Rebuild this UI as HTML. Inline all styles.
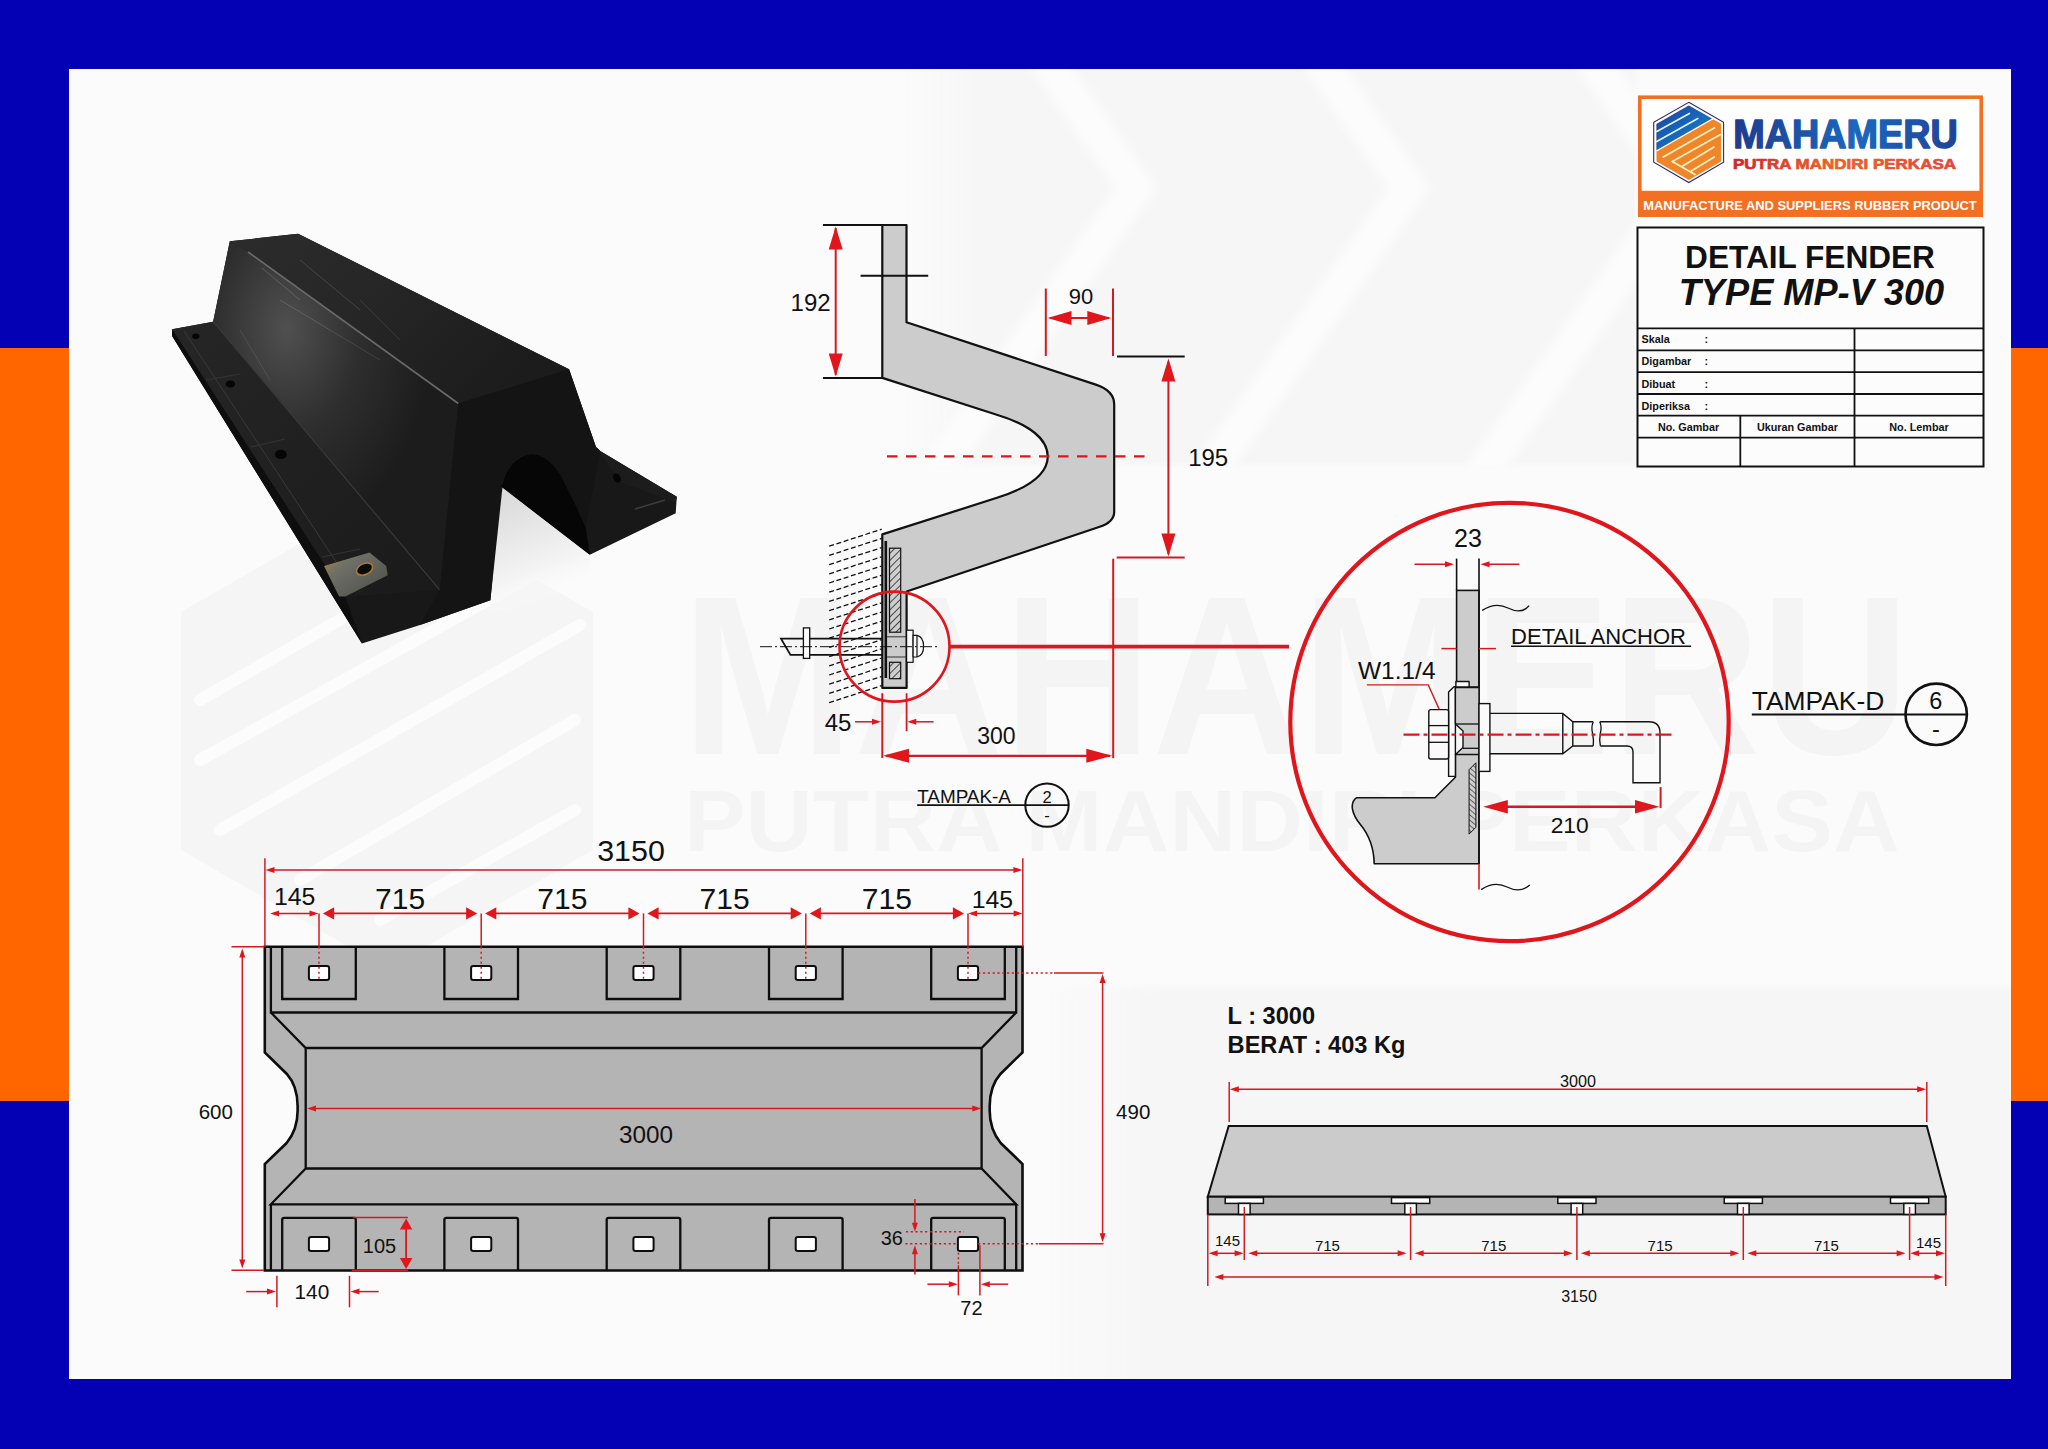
<!DOCTYPE html><html><head><meta charset="utf-8"><style>html,body{margin:0;padding:0;background:#0400B4;}svg{display:block;}text{font-family:"Liberation Sans",sans-serif;}</style></head><body>
<svg width="2048" height="1449" viewBox="0 0 2048 1449">
<rect x="0" y="0" width="2048" height="1449" fill="#0400B4"/>
<rect x="0" y="348" width="69" height="753" fill="#FF6600"/>
<rect x="2011" y="348" width="37" height="753" fill="#FF6600"/>
<rect x="69" y="69" width="1942" height="1310" fill="#FBFBFB"/>
<defs><clipPath id="cpanel"><rect x="69" y="69" width="1942" height="1310"/></clipPath></defs><g clip-path="url(#cpanel)">
<defs><linearGradient id="gBandT" x1="0" x2="1" y1="0" y2="0"><stop offset="0" stop-color="#F6F6F6" stop-opacity="0"/><stop offset="0.12" stop-color="#F6F6F6"/><stop offset="1" stop-color="#F6F6F6"/></linearGradient></defs>
<defs><filter id="fsoft2" x="-5%" y="-5%" width="110%" height="110%"><feGaussianBlur stdDeviation="3"/></filter></defs>
<rect x="900" y="50" width="737" height="415" fill="url(#gBandT)" filter="url(#fsoft2)"/>
<rect x="1040" y="987" width="990" height="410" fill="url(#gBandT)" filter="url(#fsoft2)"/>
<defs><filter id="fsoft" x="-5%" y="-5%" width="110%" height="110%"><feGaussianBlur stdDeviation="4"/></filter></defs>
<polygon points="1059.4,49 1156.7,188 959.3,470 917.3,470 1114.7,188 1017.4,49" fill="#FCFCFC" filter="url(#fsoft)"/>
<polygon points="1332.4,49 1429.7,188 1232.3,470 1190.3,470 1387.7,188 1290.4,49" fill="#FCFCFC" filter="url(#fsoft)"/>
<polygon points="1605.4,49 1702.7,188 1505.3,470 1463.3,470 1660.7,188 1563.4,49" fill="#FCFCFC" filter="url(#fsoft)"/>
<polygon points="387,493 593,612 593,850 387,969 181,850 181,612" fill="#000" fill-opacity="0.022"/>
<line x1="200" y1="700" x2="470" y2="545" stroke="#FCFCFC" stroke-width="12" stroke-linecap="round"/>
<line x1="200" y1="760" x2="560" y2="560" stroke="#FCFCFC" stroke-width="12" stroke-linecap="round"/>
<line x1="220" y1="830" x2="580" y2="625" stroke="#FCFCFC" stroke-width="12" stroke-linecap="round"/>
<line x1="300" y1="880" x2="575" y2="720" stroke="#FCFCFC" stroke-width="12" stroke-linecap="round"/>
<line x1="380" y1="920" x2="575" y2="810" stroke="#FCFCFC" stroke-width="12" stroke-linecap="round"/>
<text x="681.8" y="753.6" font-size="227" font-weight="bold" fill="#000" fill-opacity="0.028" textLength="1228" lengthAdjust="spacingAndGlyphs">MAHAMERU</text>
<text x="684" y="851" font-size="87" font-weight="bold" fill="#000" fill-opacity="0.028" textLength="1216" lengthAdjust="spacingAndGlyphs">PUTRA MANDIRI PERKASA</text>
</g>
<defs><linearGradient id="gTop" x1="0" y1="0" x2="1" y2="0.5"><stop offset="0" stop-color="#2c2c2c"/><stop offset="0.5" stop-color="#262626"/><stop offset="1" stop-color="#1c1c1c"/></linearGradient><radialGradient id="gScr" cx="0.3" cy="0.25" r="0.6"><stop offset="0" stop-color="#505050"/><stop offset="0.5" stop-color="#2e2e2e"/><stop offset="1" stop-color="#1c1c1c"/></radialGradient><linearGradient id="gWedge" x1="0" y1="0" x2="0.3" y2="1"><stop offset="0" stop-color="#d6d6d6"/><stop offset="0.75" stop-color="#f4f4f4"/><stop offset="1" stop-color="#fbfbfb" stop-opacity="0"/></linearGradient><linearGradient id="gFl" x1="0" y1="0" x2="1" y2="1"><stop offset="0" stop-color="#262626"/><stop offset="1" stop-color="#1a1a1a"/></linearGradient><linearGradient id="gPlate" x1="0" y1="0" x2="1" y2="1"><stop offset="0" stop-color="#b08a3c"/><stop offset="0.3" stop-color="#6f7068"/><stop offset="1" stop-color="#4c4c48"/></linearGradient></defs>
<polygon points="500.8,486.3 589.8,554.7 590,610 490.4,610" fill="url(#gWedge)"/>
<polygon points="172.1,329.3 213.1,321.7 229.8,241.3 298.1,233.7 569.1,369.3 596,447 600.2,451.1 676.8,496.7 675.7,513.2 589.8,554.7 500.8,486.3 490.4,600.2 420,625 361.9,643.5 172.1,336" fill="#181818"/>
<polygon points="229.8,241.3 298.1,233.7 569.1,369.3 458.3,403.5 248,252" fill="url(#gTop)"/>
<polygon points="229.8,241.3 248,252 458.3,403.5 439.7,589.9 213.1,321.7" fill="url(#gScr)"/>
<polygon points="172.1,329.3 213.1,321.7 439.7,589.9 345.2,596.4" fill="url(#gFl)"/>
<polygon points="172.1,329.3 345.2,596.4 361.9,643.5 172.1,336" fill="#0e0e0e"/>
<polyline points="184,331 356,592" fill="none" stroke="#3a3a3a" stroke-width="1"/>
<polyline points="213.1,321.7 439.7,589.9" fill="none" stroke="#3a3a3a" stroke-width="1.2"/>
<polyline points="248,252 458.3,403.5" fill="none" stroke="#6a6a6a" stroke-width="1.6"/>
<polygon points="458.3,403.5 569.1,369.3 596,447 600.2,451.1 585.7,527.7 577.4,509.1 565,484.2 552.5,463.5 544.2,456.3 531.8,454.2 519.4,456.3 509,467.7 502.8,484.2 490.4,600.2 420,625 439.7,589.9" fill="#141414"/>
<path d="M502.8,484.2 C506,470 515,456 531.8,454.2 C546,454 558,468 565,484.2 L577.4,509.1 L585.7,527.7 L589.8,554.7 L500.8,486.3 Z" fill="#060606"/>
<polygon points="596,447 600.2,451.1 676.8,496.7 675.7,503 620,482 " fill="#1c1c1c"/>
<polyline points="635,509 665,500" fill="none" stroke="#3c3c3c" stroke-width="1.5"/>
<ellipse cx="617" cy="478" rx="3.5" ry="5" fill="#050505" transform="rotate(-30 617 478)"/>
<ellipse cx="195.8" cy="336.3" rx="3.6" ry="2.8" fill="#050505"/>
<ellipse cx="230.4" cy="384" rx="4.7" ry="3.6" fill="#050505"/>
<ellipse cx="280.8" cy="454.4" rx="6.0" ry="4.6" fill="#050505"/>
<line x1="206" y1="380" x2="240" y2="374" stroke="#333" stroke-width="1.2"/>
<line x1="251" y1="447" x2="285" y2="439" stroke="#333" stroke-width="1.2"/>
<line x1="322" y1="557" x2="360" y2="549" stroke="#333" stroke-width="1.2"/>
<polygon points="324,566 369.5,552.4 386.2,566 387.7,575.2 345.2,596.4 339.1,596.4" fill="url(#gPlate)"/>
<ellipse cx="364.6" cy="569.1" rx="8.5" ry="5.5" fill="#0a0a0a" stroke="#b07a30" stroke-width="1.6" transform="rotate(-25 364.6 569.1)"/>
<line x1="262" y1="268" x2="300" y2="300" stroke="#9a9a9a" stroke-opacity="0.35" stroke-width="1"/>
<line x1="280" y1="300" x2="330" y2="330" stroke="#9a9a9a" stroke-opacity="0.3" stroke-width="1"/>
<line x1="300" y1="260" x2="360" y2="310" stroke="#9a9a9a" stroke-opacity="0.25" stroke-width="1"/>
<line x1="330" y1="330" x2="380" y2="360" stroke="#9a9a9a" stroke-opacity="0.2" stroke-width="1"/>
<line x1="360" y1="300" x2="400" y2="340" stroke="#9a9a9a" stroke-opacity="0.2" stroke-width="1"/>
<line x1="240" y1="330" x2="270" y2="380" stroke="#9a9a9a" stroke-opacity="0.2" stroke-width="1"/>
<defs><linearGradient id="gM" x1="0" x2="1" y1="0" y2="0"><stop offset="0" stop-color="#1E3C8E"/><stop offset="0.55" stop-color="#1A68BE"/><stop offset="1" stop-color="#1E4398"/></linearGradient><linearGradient id="gP" x1="0" x2="1" y1="0" y2="0"><stop offset="0" stop-color="#D3222F"/><stop offset="0.45" stop-color="#E8642A"/><stop offset="1" stop-color="#E2473A"/></linearGradient><linearGradient id="gB" x1="0" x2="1" y1="0" y2="1"><stop offset="0" stop-color="#1C3F9C"/><stop offset="0.6" stop-color="#1570C2"/><stop offset="1" stop-color="#1C3F9C"/></linearGradient></defs>
<rect x="1639.8" y="97.2" width="341.4" height="118" fill="#FFFFFF" stroke="#F36F21" stroke-width="3.6"/>
<rect x="1638" y="190.8" width="345" height="26.2" fill="#F36F21"/>
<polygon points="1688.8,102.3 1723.6,122.2 1723.6,162.3 1688.8,182.5 1653.7,162.3 1653.7,122.2" fill="#FFFFFF" stroke="#2B2A72" stroke-width="1.1"/>
<polygon points="1688.8,105.5 1721.1,123.8 1721.1,161.4 1688.8,180 1656.5,161.4 1656.5,124.1" fill="#F0862A"/>
<polygon points="1688.8,105.5 1711.8,118.5 1656.5,150.2 1656.5,124.1" fill="url(#gB)"/>
<line x1="1656.5" y1="151" x2="1713" y2="118.8" stroke="#FFFFFF" stroke-width="1.3"/>
<line x1="1656.8" y1="131.5" x2="1689.4" y2="113.5" stroke="#DDF6FF" stroke-width="1.7" stroke-linecap="round"/>
<line x1="1656.8" y1="141.5" x2="1697.8" y2="118.5" stroke="#DDF6FF" stroke-width="1.7" stroke-linecap="round"/>
<line x1="1663.3" y1="157" x2="1714.6" y2="127.8" stroke="#FFF0C0" stroke-width="1.7" stroke-linecap="round"/>
<line x1="1672.3" y1="161.4" x2="1720.5" y2="134.6" stroke="#FFF0C0" stroke-width="1.7" stroke-linecap="round"/>
<line x1="1672.3" y1="161.4" x2="1695" y2="174.6" stroke="#FFF0C0" stroke-width="1.7" stroke-linecap="round"/>
<line x1="1682.3" y1="166.3" x2="1714" y2="147.1" stroke="#FFF0C0" stroke-width="1.7" stroke-linecap="round"/>
<line x1="1691.3" y1="171" x2="1714.3" y2="157" stroke="#FFF0C0" stroke-width="1.7" stroke-linecap="round"/>
<text x="1733.2" y="147.9" font-size="40.6" font-weight="bold" fill="url(#gM)" stroke="url(#gM)" stroke-width="1.5" stroke-linejoin="round" textLength="224.5" lengthAdjust="spacingAndGlyphs">MAHAMERU</text>
<text x="1733" y="168.8" font-size="14.3" font-weight="bold" fill="url(#gP)" stroke="url(#gP)" stroke-width="0.7" stroke-linejoin="round" textLength="223" lengthAdjust="spacingAndGlyphs">PUTRA MANDIRI PERKASA</text>
<text x="1643.2" y="209.5" font-size="13.4" font-weight="bold" fill="#FFFFFF" textLength="333.5" lengthAdjust="spacingAndGlyphs">MANUFACTURE AND SUPPLIERS RUBBER PRODUCT</text>
<rect x="1637.5" y="227.5" width="346.0" height="239.0" fill="#FCFCFC" stroke="#111" stroke-width="2"/>
<line x1="1637.5" y1="328.4" x2="1983.5" y2="328.4" stroke="#111" stroke-width="1.8" />
<line x1="1637.5" y1="350.4" x2="1983.5" y2="350.4" stroke="#111" stroke-width="1.8" />
<line x1="1637.5" y1="372.2" x2="1983.5" y2="372.2" stroke="#111" stroke-width="1.8" />
<line x1="1637.5" y1="394.0" x2="1983.5" y2="394.0" stroke="#111" stroke-width="1.8" />
<line x1="1637.5" y1="415.7" x2="1983.5" y2="415.7" stroke="#111" stroke-width="1.8" />
<line x1="1637.5" y1="437.7" x2="1983.5" y2="437.7" stroke="#111" stroke-width="1.8" />
<line x1="1854.5" y1="328.4" x2="1854.5" y2="466.5" stroke="#111" stroke-width="1.8" />
<line x1="1740.3" y1="415.7" x2="1740.3" y2="466.5" stroke="#111" stroke-width="1.8" />
<text x="1810" y="267.8" font-size="31.6" text-anchor="middle" font-weight="bold" font-style="normal" fill="#111" >DETAIL FENDER</text>
<text x="1811.5" y="305.3" font-size="36.2" text-anchor="middle" font-weight="bold" font-style="italic" fill="#111" >TYPE MP-V 300</text>
<text x="1641.5" y="342.9" font-size="10.8" text-anchor="start" font-weight="bold" font-style="normal" fill="#111" >Skala</text>
<text x="1706.4" y="342.9" font-size="10.8" text-anchor="middle" font-weight="bold" font-style="normal" fill="#111" >:</text>
<text x="1641.5" y="365.3" font-size="10.8" text-anchor="start" font-weight="bold" font-style="normal" fill="#111" >Digambar</text>
<text x="1706.4" y="365.3" font-size="10.8" text-anchor="middle" font-weight="bold" font-style="normal" fill="#111" >:</text>
<text x="1641.5" y="388.2" font-size="10.8" text-anchor="start" font-weight="bold" font-style="normal" fill="#111" >Dibuat</text>
<text x="1706.4" y="388.2" font-size="10.8" text-anchor="middle" font-weight="bold" font-style="normal" fill="#111" >:</text>
<text x="1641.5" y="410.2" font-size="10.8" text-anchor="start" font-weight="bold" font-style="normal" fill="#111" >Diperiksa</text>
<text x="1706.4" y="410.2" font-size="10.8" text-anchor="middle" font-weight="bold" font-style="normal" fill="#111" >:</text>
<text x="1688.5" y="431" font-size="10.8" text-anchor="middle" font-weight="bold" font-style="normal" fill="#111" >No. Gambar</text>
<text x="1797.4" y="431" font-size="10.8" text-anchor="middle" font-weight="bold" font-style="normal" fill="#111" >Ukuran Gambar</text>
<text x="1919" y="431" font-size="10.8" text-anchor="middle" font-weight="bold" font-style="normal" fill="#111" >No. Lembar</text>
<defs><pattern id="hatch" patternUnits="userSpaceOnUse" width="5" height="5" patternTransform="rotate(45)"><rect width="5" height="5" fill="#cfcfcf"/><line x1="0" y1="0" x2="0" y2="5" stroke="#222" stroke-width="1.6"/></pattern></defs>
<line x1="829.2" y1="546.2" x2="881.7" y2="529.2" stroke="#111" stroke-width="1.3" stroke-dasharray="5,2.6"/>
<line x1="829.2" y1="555.4" x2="881.7" y2="538.4" stroke="#111" stroke-width="1.3" stroke-dasharray="5,2.6"/>
<line x1="829.2" y1="564.6" x2="881.7" y2="547.6" stroke="#111" stroke-width="1.3" stroke-dasharray="5,2.6"/>
<line x1="829.2" y1="573.8" x2="881.7" y2="556.8" stroke="#111" stroke-width="1.3" stroke-dasharray="5,2.6"/>
<line x1="829.2" y1="583.0" x2="881.7" y2="566.0" stroke="#111" stroke-width="1.3" stroke-dasharray="5,2.6"/>
<line x1="829.2" y1="592.2" x2="881.7" y2="575.2" stroke="#111" stroke-width="1.3" stroke-dasharray="5,2.6"/>
<line x1="829.2" y1="601.4" x2="881.7" y2="584.4" stroke="#111" stroke-width="1.3" stroke-dasharray="5,2.6"/>
<line x1="829.2" y1="610.6" x2="881.7" y2="593.6" stroke="#111" stroke-width="1.3" stroke-dasharray="5,2.6"/>
<line x1="829.2" y1="619.8" x2="881.7" y2="602.8" stroke="#111" stroke-width="1.3" stroke-dasharray="5,2.6"/>
<line x1="829.2" y1="629.0" x2="881.7" y2="612.0" stroke="#111" stroke-width="1.3" stroke-dasharray="5,2.6"/>
<line x1="829.2" y1="638.2" x2="881.7" y2="621.2" stroke="#111" stroke-width="1.3" stroke-dasharray="5,2.6"/>
<line x1="829.2" y1="647.4" x2="881.7" y2="630.4" stroke="#111" stroke-width="1.3" stroke-dasharray="5,2.6"/>
<line x1="829.2" y1="656.6" x2="881.7" y2="639.6" stroke="#111" stroke-width="1.3" stroke-dasharray="5,2.6"/>
<line x1="829.2" y1="665.8" x2="881.7" y2="648.8" stroke="#111" stroke-width="1.3" stroke-dasharray="5,2.6"/>
<line x1="829.2" y1="675.0" x2="881.7" y2="658.0" stroke="#111" stroke-width="1.3" stroke-dasharray="5,2.6"/>
<line x1="829.2" y1="684.2" x2="881.7" y2="667.2" stroke="#111" stroke-width="1.3" stroke-dasharray="5,2.6"/>
<line x1="829.2" y1="693.4" x2="881.7" y2="676.4" stroke="#111" stroke-width="1.3" stroke-dasharray="5,2.6"/>
<line x1="829.2" y1="702.6" x2="881.7" y2="685.6" stroke="#111" stroke-width="1.3" stroke-dasharray="5,2.6"/>
<path d="M882.3,638.7 L781,638.7 L790.5,654.9 L882.3,654.9" fill="none" stroke="#111" stroke-width="1.8"/>
<rect x="803.4" y="627.9" width="6.3" height="30.5" fill="#FAFAFA" stroke="#111" stroke-width="1.3"/>
<path d="M882.3,225 L906.5,225 L906.5,322.3 L1095.8,384.6 Q1114.2,390.6 1114.2,404.5 L1114.2,511.9 Q1114.2,522 1099,527 L906.6,591.5 L906.6,687.9 L882.3,687.9 L882.3,534.4 L997,497.8 C1031,487 1047.5,473 1047.8,456.4 C1047.5,440 1031,425 996,414.5 L882.3,377.9 Z" fill="#CCCCCC" stroke="#111" stroke-width="2.2" stroke-linejoin="round"/>
<line x1="885.8" y1="541" x2="885.8" y2="678" stroke="#111" stroke-width="2.6" />
<rect x="889.5" y="548.2" width="11.2" height="84" fill="url(#hatch)" stroke="#111" stroke-width="1.2"/>
<rect x="889.5" y="662.3" width="11.2" height="16.4" fill="url(#hatch)" stroke="#111" stroke-width="1.2"/>
<line x1="887" y1="636.8" x2="906.6" y2="636.8" stroke="#333" stroke-width="1" />
<line x1="887" y1="657" x2="906.6" y2="657" stroke="#333" stroke-width="1" />
<rect x="906.6" y="630.2" width="6.5" height="32.1" fill="#FAFAFA" stroke="#111" stroke-width="1.2"/>
<path d="M913.1,635.4 L917,635.4 Q923.6,637 923.6,646.2 Q923.6,655.5 917,657 L913.1,657 Z" fill="#FAFAFA" stroke="#111" stroke-width="1.2"/>
<line x1="917" y1="635.4" x2="917" y2="657" stroke="#111" stroke-width="1.2" />
<line x1="760" y1="646.7" x2="939.5" y2="646.7" stroke="#111" stroke-width="1" stroke-dasharray="12,3,2,3"/>
<line x1="823" y1="225" x2="882.3" y2="225" stroke="#111" stroke-width="2" />
<line x1="860.6" y1="275.7" x2="928.2" y2="275.7" stroke="#111" stroke-width="2" />
<line x1="823" y1="377.9" x2="882.3" y2="377.9" stroke="#111" stroke-width="2" />
<line x1="1117" y1="356.6" x2="1184.7" y2="356.6" stroke="#111" stroke-width="2" />
<line x1="835.7" y1="228" x2="835.7" y2="375" stroke="#D41A20" stroke-width="2" />
<polygon points="835.7,226.5 842.7,249.5 828.7,249.5" fill="#E0161C"/>
<polygon points="835.7,376.5 828.7,353.5 842.7,353.5" fill="#E0161C"/>
<text x="810.6" y="311.2" font-size="24" text-anchor="middle" font-weight="normal" font-style="normal" fill="#111" >192</text>
<line x1="1045.8" y1="288.5" x2="1045.8" y2="356" stroke="#D41A20" stroke-width="2" />
<line x1="1113" y1="288.5" x2="1113" y2="356" stroke="#D41A20" stroke-width="2" />
<line x1="1050" y1="318" x2="1109" y2="318" stroke="#D41A20" stroke-width="2" />
<polygon points="1047.5,318.0 1071.5,311.0 1071.5,325.0" fill="#E0161C"/>
<polygon points="1111.3,318.0 1087.3,325.0 1087.3,311.0" fill="#E0161C"/>
<text x="1081" y="304" font-size="22" text-anchor="middle" font-weight="normal" font-style="normal" fill="#111" >90</text>
<line x1="887" y1="456.4" x2="1151.6" y2="456.4" stroke="#D41A20" stroke-width="2.4" stroke-dasharray="10.5,8.5"/>
<line x1="1168.4" y1="362" x2="1168.4" y2="554" stroke="#D41A20" stroke-width="2" />
<polygon points="1168.4,358.5 1175.4,381.5 1161.4,381.5" fill="#E0161C"/>
<polygon points="1168.4,556.5 1161.4,533.5 1175.4,533.5" fill="#E0161C"/>
<text x="1208.2" y="465.5" font-size="24" text-anchor="middle" font-weight="normal" font-style="normal" fill="#111" >195</text>
<line x1="1116.7" y1="557.5" x2="1184.7" y2="557.5" stroke="#D41A20" stroke-width="2" />
<line x1="1113.2" y1="558.7" x2="1113.2" y2="758.2" stroke="#D41A20" stroke-width="2" />
<line x1="882.3" y1="693.2" x2="882.3" y2="758" stroke="#D41A20" stroke-width="2" />
<line x1="886" y1="755.8" x2="1110" y2="755.8" stroke="#D41A20" stroke-width="2.2" />
<polygon points="883.0,755.8 909.0,748.8 909.0,762.8" fill="#E0161C"/>
<polygon points="1112.3,755.8 1086.3,762.8 1086.3,748.8" fill="#E0161C"/>
<text x="996.4" y="744" font-size="23" text-anchor="middle" font-weight="normal" font-style="normal" fill="#111" >300</text>
<line x1="906.6" y1="693.2" x2="906.6" y2="731.2" stroke="#D41A20" stroke-width="1.8" />
<line x1="855" y1="721.8" x2="878" y2="721.8" stroke="#D41A20" stroke-width="1.5" />
<polygon points="881.0,721.8 872.0,724.8 872.0,718.8" fill="#E0161C"/>
<line x1="910" y1="721.8" x2="933.6" y2="721.8" stroke="#D41A20" stroke-width="1.5" />
<polygon points="907.3,721.8 916.3,718.8 916.3,724.8" fill="#E0161C"/>
<text x="838" y="731.2" font-size="24" text-anchor="middle" font-weight="normal" font-style="normal" fill="#111" >45</text>
<circle cx="894.5" cy="646.6" r="55" fill="none" stroke="#E0161C" stroke-width="2.6"/>
<line x1="949.5" y1="646.6" x2="1289" y2="646.6" stroke="#E0161C" stroke-width="3.6" />
<text x="917.2" y="802.7" font-size="18.9" text-anchor="start" font-weight="normal" font-style="normal" fill="#111" >TAMPAK-A</text>
<line x1="917.2" y1="805.1" x2="1068.6" y2="805.1" stroke="#111" stroke-width="1.6" />
<circle cx="1047" cy="805.1" r="21.7" fill="none" stroke="#111" stroke-width="2"/>
<text x="1047" y="802.5" font-size="16.5" text-anchor="middle" font-weight="normal" font-style="normal" fill="#111" >2</text>
<text x="1047" y="821" font-size="16.5" text-anchor="middle" font-weight="normal" font-style="normal" fill="#111" >-</text>
<defs><pattern id="hatch2" patternUnits="userSpaceOnUse" width="4" height="4" patternTransform="rotate(-50)"><rect width="4" height="4" fill="#cfcfcf"/><line x1="0" y1="0" x2="0" y2="4" stroke="#222" stroke-width="1.3"/></pattern></defs>
<path d="M1479,863.8 L1374.2,863.8 C1374,850 1370,836 1360,824 C1352,814 1349,803 1356.7,797.7 L1434.9,797.7 L1455.4,777.2 L1455.4,754.4 L1479,754.4 Z" fill="#CCCCCC" stroke="#111" stroke-width="1.6" stroke-linejoin="round"/>
<path d="M1469.1,769.6 L1475.9,762.8 L1475.9,827.3 L1469.1,834.1 Z" fill="url(#hatch2)" stroke="#111" stroke-width="1"/>
<rect x="1456.6" y="590.4" width="22.4" height="96.6" fill="#CCCCCC" stroke="#111" stroke-width="1.6"/>
<line x1="1456.6" y1="558.6" x2="1456.6" y2="590.4" stroke="#111" stroke-width="1.6" />
<line x1="1479" y1="558.6" x2="1479" y2="863.8" stroke="#111" stroke-width="1.6" />
<path d="M1448.6,692.1 L1454,686.8 L1455.9,686.8 L1455.9,681.5 L1469.1,681.5 L1469.1,687 L1455.4,687 L1455.4,776.4 L1448.6,776.4 Z" fill="#FAFAFA" stroke="#111" stroke-width="1.4" stroke-linejoin="round"/>
<path d="M1455.4,687.6 L1479,687.6 L1479,754.4 L1455.4,754.4 L1463,747.6 L1463,730.9 L1455.4,724 Z" fill="#CCCCCC" stroke="#111" stroke-width="1.4" stroke-linejoin="round"/>
<line x1="1455.4" y1="724" x2="1479" y2="724" stroke="#111" stroke-width="1.3" />
<line x1="1463" y1="748.3" x2="1479" y2="748.3" stroke="#111" stroke-width="1.3" />
<rect x="1428.8" y="709.6" width="19.8" height="49.4" rx="2" fill="#FAFAFA" stroke="#111" stroke-width="1.4"/>
<line x1="1428.8" y1="725.6" x2="1448.6" y2="725.6" stroke="#111" stroke-width="1.3" />
<line x1="1428.8" y1="742.3" x2="1448.6" y2="742.3" stroke="#111" stroke-width="1.3" />
<rect x="1479" y="703.6" width="10.9" height="67.8" fill="#FAFAFA" stroke="#111" stroke-width="1.4"/>
<path d="M1489.9,713.4 L1562.8,713.4 L1572.8,721.7 L1593.2,721.7 M1593.2,746 L1572.8,746 L1562.8,753.8 L1489.9,753.8 M1562.8,713.4 L1562.8,753.8 M1572.8,721.7 L1572.8,746" fill="none" stroke="#111" stroke-width="1.4"/>
<path d="M1593.2,721.7 Q1591,727 1592.5,733 Q1594,740 1593.2,746" fill="none" stroke="#111" stroke-width="1.3"/>
<path d="M1599.8,721.7 Q1602,727 1600.4,733 Q1599,740 1600.4,746" fill="none" stroke="#111" stroke-width="1.3"/>
<path d="M1599.8,721.7 L1649,721.7 Q1660,721.7 1660,733 L1660,782.7 L1633,782.7 L1633,752 Q1633,746 1627,746 L1600.4,746" fill="none" stroke="#111" stroke-width="1.4"/>
<path d="M1482.2,610.4 C1492,604 1500,604 1508,608 C1516,612 1524,612 1529.1,605.6" fill="none" stroke="#111" stroke-width="1.3"/>
<path d="M1481.2,889.6 C1491,883 1499,883 1507,887 C1515,891 1523,891 1529.8,885" fill="none" stroke="#111" stroke-width="1.3"/>
<line x1="1403.5" y1="734.7" x2="1675" y2="734.7" stroke="#E0161C" stroke-width="2.2" stroke-dasharray="16,4,4,4"/>
<line x1="1479" y1="864" x2="1479" y2="889.6" stroke="#D41A20" stroke-width="1.6" />
<line x1="1414.5" y1="564.2" x2="1447" y2="564.2" stroke="#D41A20" stroke-width="1.5" />
<polygon points="1454.0,564.2 1445.0,567.2 1445.0,561.2" fill="#E0161C"/>
<line x1="1519.4" y1="564.2" x2="1487" y2="564.2" stroke="#D41A20" stroke-width="1.5" />
<polygon points="1480.5,564.2 1489.5,561.2 1489.5,567.2" fill="#E0161C"/>
<text x="1468" y="547.1" font-size="25" text-anchor="middle" font-weight="normal" font-style="normal" fill="#111" >23</text>
<line x1="1441.4" y1="648.6" x2="1456.6" y2="648.6" stroke="#D41A20" stroke-width="1.5" />
<line x1="1479" y1="648.6" x2="1496" y2="648.6" stroke="#D41A20" stroke-width="1.5" />
<text x="1357.9" y="678.6" font-size="24.5" text-anchor="start" font-weight="normal" font-style="normal" fill="#111" >W1.1/4</text>
<path d="M1366.9,684.9 L1428.3,684.9 L1439.1,709.1" fill="none" stroke="#D41A20" stroke-width="1.4"/>
<text x="1511.1" y="644" font-size="22" text-anchor="start" font-weight="normal" font-style="normal" fill="#111" >DETAIL ANCHOR</text>
<line x1="1511.1" y1="646.2" x2="1691.1" y2="646.2" stroke="#111" stroke-width="1.6" />
<line x1="1490" y1="806.8" x2="1654" y2="806.8" stroke="#D41A20" stroke-width="2.6" />
<polygon points="1483.3,806.8 1507.8,800.0 1507.8,813.5" fill="#E0161C"/>
<polygon points="1659.5,806.8 1635.0,813.5 1635.0,800.0" fill="#E0161C"/>
<line x1="1660.6" y1="787.1" x2="1660.6" y2="808" stroke="#D41A20" stroke-width="2" />
<text x="1569.7" y="832.6" font-size="22.8" text-anchor="middle" font-weight="normal" font-style="normal" fill="#111" >210</text>
<circle cx="1509.5" cy="722" r="219.2" fill="none" stroke="#E0161C" stroke-width="4.2"/>
<text x="1751.8" y="710.3" font-size="26.4" text-anchor="start" font-weight="normal" font-style="normal" fill="#111" >TAMPAK-D</text>
<line x1="1751.8" y1="714.6" x2="1966" y2="714.6" stroke="#111" stroke-width="2" />
<circle cx="1936.2" cy="714.3" r="30.7" fill="none" stroke="#111" stroke-width="2.6"/>
<text x="1935.8" y="709.2" font-size="23.5" text-anchor="middle" font-weight="normal" font-style="normal" fill="#111" >6</text>
<text x="1935.8" y="737" font-size="23.5" text-anchor="middle" font-weight="normal" font-style="normal" fill="#111" >-</text>
<path d="M264.8,946.8 L1022.5,946.8 L1022.5,1052.4 L1000.7,1073.7 C993.3,1082 989.3,1095 989.7,1108.5 C989.3,1122 993.3,1134 1000.7,1143 L1022.5,1164 L1022.5,1270.5 L264.8,1270.5 L264.8,1164 L286.6,1143 C294,1134 298,1122 297.6,1108.5 C298,1095 294,1082 286.6,1073.7 L264.8,1052.4 Z" fill="#B4B4B4" stroke="#0d0d0d" stroke-width="2.6" stroke-linejoin="miter"/>
<path d="M270.9,946.8 L270.9,1012.5 L1016.2,1012.5 L1016.2,946.8 M270.9,1012.5 L305.7,1048 L981.6,1048 L1016.2,1012.5 M305.7,1048 L305.7,1168.5 M981.6,1048 L981.6,1168.5 M305.7,1168.5 L981.6,1168.5 M305.7,1168.5 L270.9,1204.3 L1016.2,1204.3 L981.6,1168.5 M270.9,1204.3 L270.9,1270.5 M1016.2,1204.3 L1016.2,1270.5" fill="none" stroke="#0d0d0d" stroke-width="2.3" stroke-linejoin="miter"/>
<path d="M282.2,946.8 L282.2,999 L355.8,999 L355.8,946.8" fill="none" stroke="#0d0d0d" stroke-width="2.3"/>
<rect x="308.9" y="966.1" width="20.2" height="13.8" rx="2.2" fill="#FFFFFF" stroke="#0d0d0d" stroke-width="2"/>
<path d="M282.2,1270.5 L282.2,1219.8 Q282.2,1217.8 284.2,1217.8 L353.8,1217.8 Q355.8,1217.8 355.8,1219.8 L355.8,1270.5" fill="none" stroke="#0d0d0d" stroke-width="2.3"/>
<rect x="308.9" y="1237.1" width="20.2" height="13.9" rx="2.2" fill="#FFFFFF" stroke="#0d0d0d" stroke-width="2"/>
<line x1="319.0" y1="913.4" x2="319.0" y2="946.8" stroke="#D41A20" stroke-width="1.5" />
<line x1="319.0" y1="946.8" x2="319.0" y2="980" stroke="#D41A20" stroke-width="1.5" stroke-dasharray="2,3"/>
<path d="M444.4,946.8 L444.4,999 L518.0,999 L518.0,946.8" fill="none" stroke="#0d0d0d" stroke-width="2.3"/>
<rect x="471.1" y="966.1" width="20.2" height="13.8" rx="2.2" fill="#FFFFFF" stroke="#0d0d0d" stroke-width="2"/>
<path d="M444.4,1270.5 L444.4,1219.8 Q444.4,1217.8 446.4,1217.8 L516.0,1217.8 Q518.0,1217.8 518.0,1219.8 L518.0,1270.5" fill="none" stroke="#0d0d0d" stroke-width="2.3"/>
<rect x="471.1" y="1237.1" width="20.2" height="13.9" rx="2.2" fill="#FFFFFF" stroke="#0d0d0d" stroke-width="2"/>
<line x1="481.2" y1="913.4" x2="481.2" y2="946.8" stroke="#D41A20" stroke-width="1.5" />
<line x1="481.2" y1="946.8" x2="481.2" y2="980" stroke="#D41A20" stroke-width="1.5" stroke-dasharray="2,3"/>
<path d="M606.7,946.8 L606.7,999 L680.3,999 L680.3,946.8" fill="none" stroke="#0d0d0d" stroke-width="2.3"/>
<rect x="633.4" y="966.1" width="20.2" height="13.8" rx="2.2" fill="#FFFFFF" stroke="#0d0d0d" stroke-width="2"/>
<path d="M606.7,1270.5 L606.7,1219.8 Q606.7,1217.8 608.7,1217.8 L678.3,1217.8 Q680.3,1217.8 680.3,1219.8 L680.3,1270.5" fill="none" stroke="#0d0d0d" stroke-width="2.3"/>
<rect x="633.4" y="1237.1" width="20.2" height="13.9" rx="2.2" fill="#FFFFFF" stroke="#0d0d0d" stroke-width="2"/>
<line x1="643.5" y1="913.4" x2="643.5" y2="946.8" stroke="#D41A20" stroke-width="1.5" />
<line x1="643.5" y1="946.8" x2="643.5" y2="980" stroke="#D41A20" stroke-width="1.5" stroke-dasharray="2,3"/>
<path d="M769.0,946.8 L769.0,999 L842.6,999 L842.6,946.8" fill="none" stroke="#0d0d0d" stroke-width="2.3"/>
<rect x="795.7" y="966.1" width="20.2" height="13.8" rx="2.2" fill="#FFFFFF" stroke="#0d0d0d" stroke-width="2"/>
<path d="M769.0,1270.5 L769.0,1219.8 Q769.0,1217.8 771.0,1217.8 L840.6,1217.8 Q842.6,1217.8 842.6,1219.8 L842.6,1270.5" fill="none" stroke="#0d0d0d" stroke-width="2.3"/>
<rect x="795.7" y="1237.1" width="20.2" height="13.9" rx="2.2" fill="#FFFFFF" stroke="#0d0d0d" stroke-width="2"/>
<line x1="805.8" y1="913.4" x2="805.8" y2="946.8" stroke="#D41A20" stroke-width="1.5" />
<line x1="805.8" y1="946.8" x2="805.8" y2="980" stroke="#D41A20" stroke-width="1.5" stroke-dasharray="2,3"/>
<path d="M931.2,946.8 L931.2,999 L1004.8,999 L1004.8,946.8" fill="none" stroke="#0d0d0d" stroke-width="2.3"/>
<rect x="957.9" y="966.1" width="20.2" height="13.8" rx="2.2" fill="#FFFFFF" stroke="#0d0d0d" stroke-width="2"/>
<path d="M931.2,1270.5 L931.2,1219.8 Q931.2,1217.8 933.2,1217.8 L1002.8,1217.8 Q1004.8,1217.8 1004.8,1219.8 L1004.8,1270.5" fill="none" stroke="#0d0d0d" stroke-width="2.3"/>
<rect x="957.9" y="1237.1" width="20.2" height="13.9" rx="2.2" fill="#FFFFFF" stroke="#0d0d0d" stroke-width="2"/>
<line x1="968.0" y1="913.4" x2="968.0" y2="946.8" stroke="#D41A20" stroke-width="1.5" />
<line x1="968.0" y1="946.8" x2="968.0" y2="980" stroke="#D41A20" stroke-width="1.5" stroke-dasharray="2,3"/>
<line x1="264.9" y1="858.2" x2="264.9" y2="946.8" stroke="#D41A20" stroke-width="1.5" />
<line x1="1022.8" y1="858.2" x2="1022.8" y2="946.8" stroke="#D41A20" stroke-width="1.5" />
<line x1="270" y1="870" x2="1017" y2="870" stroke="#D41A20" stroke-width="1.5" />
<polygon points="265.5,870.0 274.5,867.0 274.5,873.0" fill="#E0161C"/>
<polygon points="1022.4,870.0 1013.4,873.0 1013.4,867.0" fill="#E0161C"/>
<text x="631" y="860.6" font-size="30.4" text-anchor="middle" font-weight="normal" font-style="normal" fill="#111" >3150</text>
<line x1="273" y1="913.4" x2="315" y2="913.4" stroke="#D41A20" stroke-width="1.5" />
<polygon points="270.2,913.4 279.2,910.4 279.2,916.4" fill="#E0161C"/>
<polygon points="318.5,913.4 309.5,916.4 309.5,910.4" fill="#E0161C"/>
<line x1="971" y1="913.4" x2="1019" y2="913.4" stroke="#D41A20" stroke-width="1.5" />
<polygon points="968.2,913.4 977.2,910.4 977.2,916.4" fill="#E0161C"/>
<polygon points="1022.6,913.4 1013.6,916.4 1013.6,910.4" fill="#E0161C"/>
<text x="294.6" y="905" font-size="24.8" text-anchor="middle" font-weight="normal" font-style="normal" fill="#111" >145</text>
<text x="992.4" y="908" font-size="24.8" text-anchor="middle" font-weight="normal" font-style="normal" fill="#111" >145</text>
<line x1="327.0" y1="913.4" x2="473.2" y2="913.4" stroke="#D41A20" stroke-width="1.6" />
<polygon points="322.9,913.4 334.1,907.2 334.1,919.6" fill="#E0161C"/>
<polygon points="477.3,913.4 466.1,919.6 466.1,907.2" fill="#E0161C"/>
<text x="400.1" y="908.5" font-size="30" text-anchor="middle" font-weight="normal" font-style="normal" fill="#111" >715</text>
<line x1="489.2" y1="913.4" x2="635.5" y2="913.4" stroke="#D41A20" stroke-width="1.6" />
<polygon points="485.1,913.4 496.3,907.2 496.3,919.6" fill="#E0161C"/>
<polygon points="639.6,913.4 628.4,919.6 628.4,907.2" fill="#E0161C"/>
<text x="562.4" y="908.5" font-size="30" text-anchor="middle" font-weight="normal" font-style="normal" fill="#111" >715</text>
<line x1="651.5" y1="913.4" x2="797.8" y2="913.4" stroke="#D41A20" stroke-width="1.6" />
<polygon points="647.4,913.4 658.6,907.2 658.6,919.6" fill="#E0161C"/>
<polygon points="801.9,913.4 790.7,919.6 790.7,907.2" fill="#E0161C"/>
<text x="724.6" y="908.5" font-size="30" text-anchor="middle" font-weight="normal" font-style="normal" fill="#111" >715</text>
<line x1="813.8" y1="913.4" x2="960.0" y2="913.4" stroke="#D41A20" stroke-width="1.6" />
<polygon points="809.7,913.4 820.9,907.2 820.9,919.6" fill="#E0161C"/>
<polygon points="964.1,913.4 952.9,919.6 952.9,907.2" fill="#E0161C"/>
<text x="886.9" y="908.5" font-size="30" text-anchor="middle" font-weight="normal" font-style="normal" fill="#111" >715</text>
<line x1="231.5" y1="946.8" x2="264" y2="946.8" stroke="#D41A20" stroke-width="1.5" />
<line x1="231.5" y1="1270.3" x2="264" y2="1270.3" stroke="#D41A20" stroke-width="1.5" />
<line x1="242.3" y1="952" x2="242.3" y2="1265" stroke="#D41A20" stroke-width="1.5" />
<polygon points="242.3,948.5 245.3,957.5 239.3,957.5" fill="#E0161C"/>
<polygon points="242.3,1268.5 239.3,1259.5 245.3,1259.5" fill="#E0161C"/>
<text x="215.8" y="1118.6" font-size="20.5" text-anchor="middle" font-weight="normal" font-style="normal" fill="#111" >600</text>
<line x1="312" y1="1108.5" x2="977" y2="1108.5" stroke="#D41A20" stroke-width="1.5" />
<polygon points="307.0,1108.5 316.0,1105.5 316.0,1111.5" fill="#E0161C"/>
<polygon points="981.3,1108.5 972.3,1111.5 972.3,1105.5" fill="#E0161C"/>
<text x="646.1" y="1143.4" font-size="24.3" text-anchor="middle" font-weight="normal" font-style="normal" fill="#111" >3000</text>
<line x1="978.2" y1="972.9" x2="1054" y2="972.9" stroke="#D41A20" stroke-width="1.5" stroke-dasharray="2.2,2.6"/>
<line x1="1054" y1="972.9" x2="1103.5" y2="972.9" stroke="#D41A20" stroke-width="1.5" />
<line x1="978.1" y1="1243.8" x2="1038.7" y2="1243.8" stroke="#D41A20" stroke-width="1.5" stroke-dasharray="2.2,2.6"/>
<line x1="1038.7" y1="1243.8" x2="1103.5" y2="1243.8" stroke="#D41A20" stroke-width="1.5" />
<line x1="1102.6" y1="978" x2="1102.6" y2="1238" stroke="#D41A20" stroke-width="1.5" />
<polygon points="1102.6,974.0 1105.6,983.0 1099.6,983.0" fill="#E0161C"/>
<polygon points="1102.6,1242.2 1099.6,1233.2 1105.6,1233.2" fill="#E0161C"/>
<text x="1133.2" y="1119.3" font-size="20.5" text-anchor="middle" font-weight="normal" font-style="normal" fill="#111" >490</text>
<line x1="352.8" y1="1217.4" x2="407.9" y2="1217.4" stroke="#D41A20" stroke-width="1.5" />
<line x1="351.7" y1="1270.3" x2="407.9" y2="1270.3" stroke="#D41A20" stroke-width="1.5" />
<line x1="406.1" y1="1225" x2="406.1" y2="1262" stroke="#D41A20" stroke-width="1.8" />
<polygon points="406.1,1218.6 412.3,1229.6 399.9,1229.6" fill="#E0161C"/>
<polygon points="406.1,1269.0 399.9,1258.0 412.3,1258.0" fill="#E0161C"/>
<text x="379.5" y="1253" font-size="20" text-anchor="middle" font-weight="normal" font-style="normal" fill="#111" >105</text>
<line x1="276.9" y1="1275.8" x2="276.9" y2="1307.3" stroke="#D41A20" stroke-width="1.5" />
<line x1="349.5" y1="1275.8" x2="349.5" y2="1307.3" stroke="#D41A20" stroke-width="1.5" />
<line x1="246.2" y1="1291.6" x2="268" y2="1291.6" stroke="#D41A20" stroke-width="1.5" />
<polygon points="276.0,1291.6 267.0,1294.6 267.0,1288.6" fill="#E0161C"/>
<line x1="378.7" y1="1291.6" x2="358" y2="1291.6" stroke="#D41A20" stroke-width="1.5" />
<polygon points="350.5,1291.6 359.5,1288.6 359.5,1294.6" fill="#E0161C"/>
<text x="311.9" y="1299.4" font-size="20.8" text-anchor="middle" font-weight="normal" font-style="normal" fill="#111" >140</text>
<line x1="905.9" y1="1231.7" x2="963.8" y2="1231.7" stroke="#D41A20" stroke-width="1.5" stroke-dasharray="2.2,2.6"/>
<line x1="905.4" y1="1243.8" x2="957.9" y2="1243.8" stroke="#D41A20" stroke-width="1.5" stroke-dasharray="2.2,2.6"/>
<line x1="914.9" y1="1199" x2="914.9" y2="1226" stroke="#D41A20" stroke-width="1.5" />
<polygon points="914.9,1231.7 911.9,1222.7 917.9,1222.7" fill="#E0161C"/>
<line x1="914.9" y1="1274.4" x2="914.9" y2="1250" stroke="#D41A20" stroke-width="1.5" />
<polygon points="914.9,1245.2 917.9,1254.2 911.9,1254.2" fill="#E0161C"/>
<text x="891.8" y="1244.9" font-size="20" text-anchor="middle" font-weight="normal" font-style="normal" fill="#111" >36</text>
<line x1="958.4" y1="1252.8" x2="958.4" y2="1265.4" stroke="#D41A20" stroke-width="1.5" stroke-dasharray="2,2.5"/>
<line x1="958.4" y1="1265.4" x2="958.4" y2="1295.4" stroke="#D41A20" stroke-width="1.5" />
<line x1="979.9" y1="1245.2" x2="979.9" y2="1295.4" stroke="#D41A20" stroke-width="1.5" />
<line x1="927.4" y1="1284.2" x2="952" y2="1284.2" stroke="#D41A20" stroke-width="1.5" />
<polygon points="957.9,1284.2 948.9,1287.2 948.9,1281.2" fill="#E0161C"/>
<line x1="1008.2" y1="1284.2" x2="986" y2="1284.2" stroke="#D41A20" stroke-width="1.5" />
<polygon points="980.8,1284.2 989.8,1281.2 989.8,1287.2" fill="#E0161C"/>
<text x="971.4" y="1314.7" font-size="20" text-anchor="middle" font-weight="normal" font-style="normal" fill="#111" >72</text>
<text x="1227.6" y="1023.5" font-size="23.6" text-anchor="start" font-weight="bold" font-style="normal" fill="#111" >L : 3000</text>
<text x="1227.6" y="1052.6" font-size="23.6" text-anchor="start" font-weight="bold" font-style="normal" fill="#111" >BERAT : 403 Kg</text>
<polygon points="1228.7,1126 1926.8,1126 1945.7,1196.7 1207.8,1196.7" fill="#CACBCA" stroke="#111" stroke-width="2"/>
<rect x="1207.8" y="1196.7" width="737.9" height="17.7" fill="#B4B4B4" stroke="#111" stroke-width="2"/>
<rect x="1225.2" y="1197.6" width="38.2" height="5.8" fill="#FFFFFF" stroke="#111" stroke-width="1.5"/>
<rect x="1238.5" y="1203.4" width="11.6" height="11" fill="#FFFFFF" stroke="#111" stroke-width="1.5"/>
<line x1="1244.3" y1="1207" x2="1244.3" y2="1260" stroke="#D41A20" stroke-width="1.5" />
<rect x="1391.5" y="1197.6" width="38.2" height="5.8" fill="#FFFFFF" stroke="#111" stroke-width="1.5"/>
<rect x="1404.8" y="1203.4" width="11.6" height="11" fill="#FFFFFF" stroke="#111" stroke-width="1.5"/>
<line x1="1410.6" y1="1207" x2="1410.6" y2="1260" stroke="#D41A20" stroke-width="1.5" />
<rect x="1557.8" y="1197.6" width="38.2" height="5.8" fill="#FFFFFF" stroke="#111" stroke-width="1.5"/>
<rect x="1571.1" y="1203.4" width="11.6" height="11" fill="#FFFFFF" stroke="#111" stroke-width="1.5"/>
<line x1="1576.9" y1="1207" x2="1576.9" y2="1260" stroke="#D41A20" stroke-width="1.5" />
<rect x="1724.2" y="1197.6" width="38.2" height="5.8" fill="#FFFFFF" stroke="#111" stroke-width="1.5"/>
<rect x="1737.5" y="1203.4" width="11.6" height="11" fill="#FFFFFF" stroke="#111" stroke-width="1.5"/>
<line x1="1743.3" y1="1207" x2="1743.3" y2="1260" stroke="#D41A20" stroke-width="1.5" />
<rect x="1890.5" y="1197.6" width="38.2" height="5.8" fill="#FFFFFF" stroke="#111" stroke-width="1.5"/>
<rect x="1903.8" y="1203.4" width="11.6" height="11" fill="#FFFFFF" stroke="#111" stroke-width="1.5"/>
<line x1="1909.6" y1="1207" x2="1909.6" y2="1260" stroke="#D41A20" stroke-width="1.5" />
<line x1="1229.2" y1="1082" x2="1229.2" y2="1122" stroke="#D41A20" stroke-width="1.5" />
<line x1="1926.8" y1="1082" x2="1926.8" y2="1122" stroke="#D41A20" stroke-width="1.5" />
<line x1="1234" y1="1089.2" x2="1922" y2="1089.2" stroke="#D41A20" stroke-width="1.5" />
<polygon points="1229.8,1089.2 1238.8,1086.2 1238.8,1092.2" fill="#E0161C"/>
<polygon points="1926.2,1089.2 1917.2,1092.2 1917.2,1086.2" fill="#E0161C"/>
<text x="1578" y="1086.6" font-size="16.2" text-anchor="middle" font-weight="normal" font-style="normal" fill="#111" >3000</text>
<line x1="1207.8" y1="1214.4" x2="1207.8" y2="1286" stroke="#D41A20" stroke-width="1.5" />
<line x1="1945.7" y1="1214.4" x2="1945.7" y2="1286" stroke="#D41A20" stroke-width="1.5" />
<line x1="1212" y1="1253.3" x2="1240" y2="1253.3" stroke="#D41A20" stroke-width="1.5" />
<polygon points="1208.6,1253.3 1217.6,1250.3 1217.6,1256.3" fill="#E0161C"/>
<polygon points="1243.6,1253.3 1234.6,1256.3 1234.6,1250.3" fill="#E0161C"/>
<line x1="1914" y1="1253.3" x2="1941" y2="1253.3" stroke="#D41A20" stroke-width="1.5" />
<polygon points="1910.2,1253.3 1919.2,1250.3 1919.2,1256.3" fill="#E0161C"/>
<polygon points="1945.0,1253.3 1936.0,1256.3 1936.0,1250.3" fill="#E0161C"/>
<line x1="1252.3" y1="1253.3" x2="1402.6" y2="1253.3" stroke="#D41A20" stroke-width="1.5" />
<polygon points="1248.3,1253.3 1257.3,1250.3 1257.3,1256.3" fill="#E0161C"/>
<polygon points="1406.6,1253.3 1397.6,1256.3 1397.6,1250.3" fill="#E0161C"/>
<text x="1327.4" y="1250.6" font-size="15" text-anchor="middle" font-weight="normal" font-style="normal" fill="#111" >715</text>
<line x1="1418.6" y1="1253.3" x2="1568.9" y2="1253.3" stroke="#D41A20" stroke-width="1.5" />
<polygon points="1414.6,1253.3 1423.6,1250.3 1423.6,1256.3" fill="#E0161C"/>
<polygon points="1572.9,1253.3 1563.9,1256.3 1563.9,1250.3" fill="#E0161C"/>
<text x="1493.8" y="1250.6" font-size="15" text-anchor="middle" font-weight="normal" font-style="normal" fill="#111" >715</text>
<line x1="1584.9" y1="1253.3" x2="1735.3" y2="1253.3" stroke="#D41A20" stroke-width="1.5" />
<polygon points="1580.9,1253.3 1589.9,1250.3 1589.9,1256.3" fill="#E0161C"/>
<polygon points="1739.3,1253.3 1730.3,1256.3 1730.3,1250.3" fill="#E0161C"/>
<text x="1660.1" y="1250.6" font-size="15" text-anchor="middle" font-weight="normal" font-style="normal" fill="#111" >715</text>
<line x1="1751.3" y1="1253.3" x2="1901.6" y2="1253.3" stroke="#D41A20" stroke-width="1.5" />
<polygon points="1747.3,1253.3 1756.3,1250.3 1756.3,1256.3" fill="#E0161C"/>
<polygon points="1905.6,1253.3 1896.6,1256.3 1896.6,1250.3" fill="#E0161C"/>
<text x="1826.4" y="1250.6" font-size="15" text-anchor="middle" font-weight="normal" font-style="normal" fill="#111" >715</text>
<text x="1227.5" y="1246.3" font-size="15" text-anchor="middle" font-weight="normal" font-style="normal" fill="#111" >145</text>
<text x="1928.5" y="1247.5" font-size="15" text-anchor="middle" font-weight="normal" font-style="normal" fill="#111" >145</text>
<line x1="1218" y1="1277" x2="1939" y2="1277" stroke="#D41A20" stroke-width="1.5" />
<polygon points="1214.4,1277.0 1223.4,1274.0 1223.4,1280.0" fill="#E0161C"/>
<polygon points="1943.5,1277.0 1934.5,1280.0 1934.5,1274.0" fill="#E0161C"/>
<text x="1579" y="1302.2" font-size="16" text-anchor="middle" font-weight="normal" font-style="normal" fill="#111" >3150</text>
</svg></body></html>
